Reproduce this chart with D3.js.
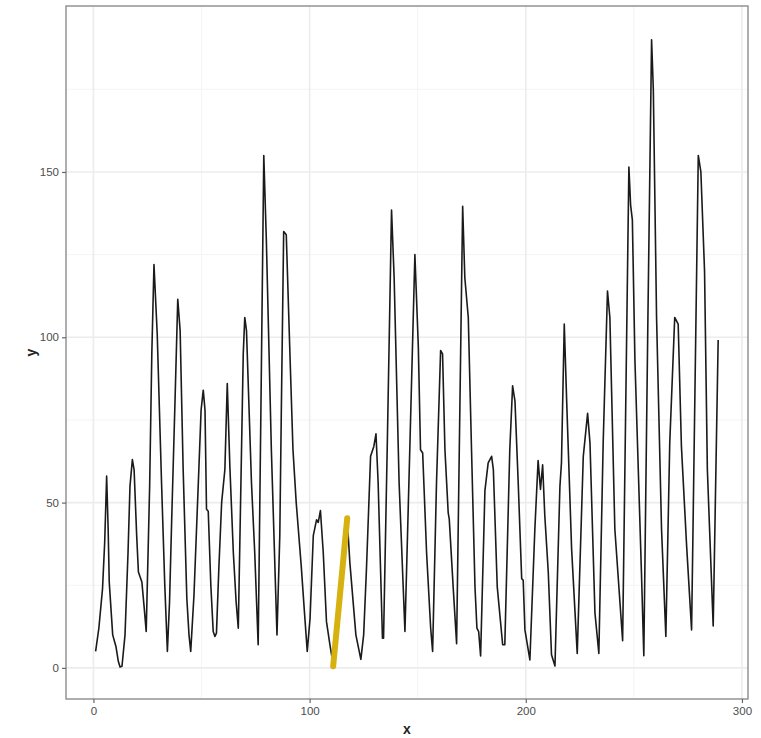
<!DOCTYPE html>
<html>
<head>
<meta charset="utf-8">
<script src="https://cdn.jsdelivr.net/npm/d3@7"></script>
<style>
  body { margin: 0; background: #fff; }
  svg text { font-family: "Liberation Sans", Arial, sans-serif; }
</style>
</head>
<body>
<svg width="761" height="738"></svg>
<script>
// series (x, y)
const xs = [1, 2.5, 4.2, 5.2, 6.1, 6.8, 7.3, 8.9, 10.4, 11.5, 12.3, 13.2, 14.6, 16, 16.9, 18, 18.8, 20, 20.8, 22.4, 23.5, 24.4,
  26, 27, 28, 29.5, 31.5, 33, 34.2, 35.2, 36.2, 37.7, 39, 40.1, 41.5, 43.2, 44.2, 45,
  46.5, 48.5, 49.8, 50.8, 51.6, 52.3, 53.1, 54.3, 55.4, 56.2, 56.9, 58, 59.3, 60.8, 61.9, 63.1, 64.7, 66, 67,
  68.5, 69.3, 70, 70.8, 73.1, 74.6, 76.2, 77.5, 78.8, 80, 82.3, 84.9, 86.2, 86.9, 88, 89.2, 90.8, 92.3, 93.8, 96.1, 97.7, 98.9,
  100.2, 101.7, 103.2, 104, 105, 106.3, 107.8, 109.4, 110.9, 117.4, 118.6, 121.4, 123.7, 125, 126.3, 128.2, 129.7, 130.7, 131.7,
  133.7, 134.2, 136, 137.9, 139.1, 141.4, 144.1, 146.5, 148.7, 150.3, 151.3, 152.3, 154.1, 156, 156.9, 158.7, 160.6, 161.5,
  162.6, 164.1, 164.6, 166.4, 168, 170.8, 171.8, 173.4, 174.9, 176.5, 177.4, 178.2, 179.1, 181.1, 182.6, 184.2, 185, 186.8,
  189.3, 190.3, 192.6, 193.9, 195, 196.5, 198.1, 198.8, 199.6, 201.9, 204.2, 205.7, 206.8, 207.8, 208.8, 210.4, 211.9, 213.5,
  215.8, 216.5, 217.8, 218.9, 221.2, 223.8, 226.6, 228.6, 229.7, 232, 233.8, 235.8, 237.8, 238.9, 241.2, 244.8, 247.7, 248.5,
  249.3, 250.5, 252, 253.5, 254.6, 256.5, 258.2, 259, 260.5, 262.8, 264.8, 266.6, 268.9, 270.5, 272, 274.4, 276.7, 279.8,
  281, 282.7, 284, 286.7, 289];
const ys = [5, 12, 24, 38, 58, 42, 26, 10, 6.5, 2, 0.3, 0.5, 10, 35, 55, 63, 60, 40, 29, 26, 18, 11,
  55, 95, 122, 101, 56, 25, 5, 20, 45, 80, 111.5, 102, 60, 21, 10, 5,
  22, 55.7, 78, 84, 78, 48, 47.4, 25, 11, 9.5, 10.5, 30, 50, 60, 86, 61, 35, 20, 12,
  66, 95, 106, 102, 56, 35, 7, 80, 155, 129, 66, 10, 40, 77, 132, 131, 97, 66, 50, 31, 16, 5,
  15, 40, 44.8, 44, 47.6, 35, 14, 7, 1, 45, 32, 10, 2.6, 10, 30, 64, 67, 70.8, 56,
  9, 9, 70, 138.5, 118, 56, 11, 70, 125, 97, 66, 65, 35, 12, 5, 56, 96, 95,
  66, 47, 45, 24.5, 7.3, 139.6, 118, 106, 66, 24.5, 12, 11, 3.6, 53.6, 62, 64, 60, 24.5,
  7, 7, 66, 85.3, 80.7, 56, 27, 26.5, 11.5, 2.4, 42, 62.7, 54, 61.4, 46, 29, 4, 0.6,
  55, 62, 104, 81, 36, 4.4, 64, 77, 68, 16.6, 4.4, 68, 114, 106, 42, 8.2, 151.5, 140,
  135.5, 93, 61, 29, 3.7, 106, 190, 175, 106, 42, 9.5, 68, 106, 104, 67, 37, 11.5, 155,
  150, 120, 60, 12.7, 99.2];

// highlighted segment
const hiX = [110.9, 117.4];
const hiY = [0.5, 45.3];

const xMajor = [0, 100, 200, 300];
const xMinor = [50, 150, 250];
const yMajor = [0, 50, 100, 150];
const yMinor = [25, 75, 125, 175];

const pLeft = 66, pRight = 748, pTop = 6, pBottom = 699;

const svg = d3.select("svg");

const x = d3.scaleLinear().domain([-12.7, 302.8]).range([pLeft, pRight]);
const y = d3.scaleLinear().domain([-9.4, 200.2]).range([pBottom, pTop]);

// grid
const grid = svg.append("g");
grid.selectAll(".xmin").data(xMinor).enter().append("line")
  .attr("x1", d => x(d)).attr("x2", d => x(d)).attr("y1", pTop).attr("y2", pBottom)
  .style("stroke", "#f4f4f4").style("stroke-width", 1);
grid.selectAll(".ymin").data(yMinor).enter().append("line")
  .attr("x1", pLeft).attr("x2", pRight).attr("y1", d => y(d)).attr("y2", d => y(d))
  .style("stroke", "#f4f4f4").style("stroke-width", 1);
grid.selectAll(".xmaj").data(xMajor).enter().append("line")
  .attr("x1", d => x(d)).attr("x2", d => x(d)).attr("y1", pTop).attr("y2", pBottom)
  .style("stroke", "#ececec").style("stroke-width", 1.6);
grid.selectAll(".ymaj").data(yMajor).enter().append("line")
  .attr("x1", pLeft).attr("x2", pRight).attr("y1", d => y(d)).attr("y2", d => y(d))
  .style("stroke", "#ececec").style("stroke-width", 1.6);

// series
const pts = xs.map((d, i) => [d, ys[i]]);
const line = d3.line().x(d => x(d[0])).y(d => y(d[1]));

svg.append("path")
  .datum(pts)
  .attr("d", line)
  .style("fill", "none")
  .style("stroke", "#1a1a1a")
  .style("stroke-width", 1.6)
  .style("stroke-linejoin", "round");

svg.append("path")
  .datum(hiX.map((d, i) => [d, hiY[i]]))
  .attr("d", line)
  .style("fill", "none")
  .style("stroke", "#d6b10f")
  .style("stroke-width", 6)
  .style("stroke-linecap", "round");

// panel border
svg.append("rect")
  .attr("x", pLeft).attr("y", pTop)
  .attr("width", pRight - pLeft).attr("height", pBottom - pTop)
  .style("fill", "none")
  .style("stroke", "#8c8c8c")
  .style("stroke-width", 1.4);

// axes
const xAxis = svg.append("g")
  .attr("transform", `translate(0,${pBottom})`)
  .call(d3.axisBottom(x).tickValues(xMajor).tickSize(4).tickPadding(4));
const yAxis = svg.append("g")
  .attr("transform", `translate(${pLeft},0)`)
  .call(d3.axisLeft(y).tickValues(yMajor).tickSize(4).tickPadding(3));

[xAxis, yAxis].forEach(a => {
  a.select(".domain").remove();
  a.selectAll("line").style("stroke", "#666").style("stroke-width", 1.2);
  a.selectAll("text").style("fill", "#4d4d4d").style("font-size", "11.5px");
});

svg.append("text")
  .attr("x", (pLeft + pRight) / 2)
  .attr("y", 734)
  .attr("text-anchor", "middle")
  .style("font-size", "14px")
  .style("font-weight", "bold")
  .style("fill", "#222")
  .text("x");

svg.append("text")
  .attr("transform", `translate(36,${(pTop + pBottom) / 2}) rotate(-90)`)
  .attr("text-anchor", "middle")
  .style("font-size", "14px")
  .style("font-weight", "bold")
  .style("fill", "#222")
  .text("y");
</script>
</body>
</html>
